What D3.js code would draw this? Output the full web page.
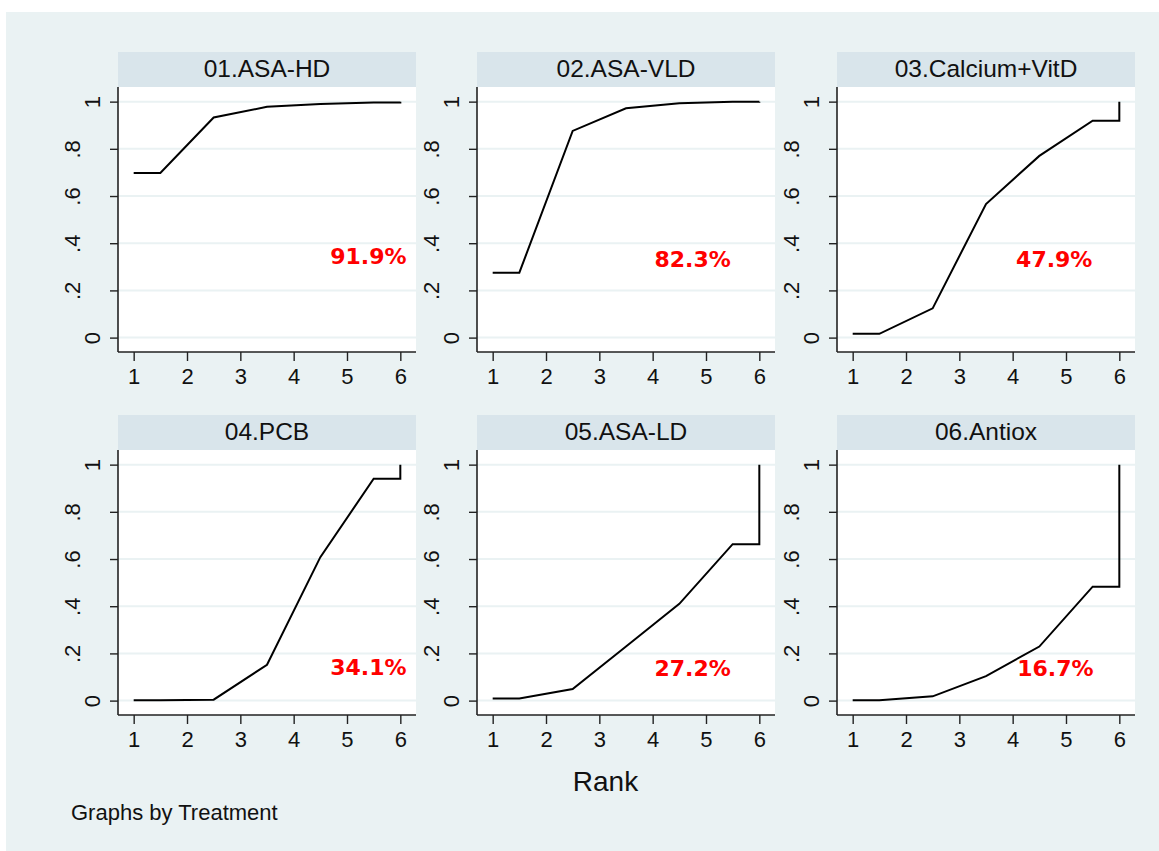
<!DOCTYPE html>
<html>
<head>
<meta charset="utf-8">
<script src="https://cdn.jsdelivr.net/npm/d3@7"></script>
<style>
  body { margin: 0; background: #ffffff; }
</style>
</head>
<body>
<svg id="chart" width="1159" height="851" font-family='"Liberation Sans", Arial, sans-serif'></svg>
<script>
// treatments, one panel each
var treatments = ['01.ASA-HD', '02.ASA-VLD', '03.Calcium+VitD', '04.PCB', '05.ASA-LD', '06.Antiox'];

// cumulative rank probabilities for ranks 1..5 (rank 6 is always 1)
var cumProb = [
  [0.698, 0.933, 0.978, 0.990, 0.996],
  [0.275, 0.876, 0.972, 0.993, 0.999],
  [0.016, 0.124, 0.566, 0.770, 0.919],
  [0.001, 0.004, 0.152, 0.608, 0.940],
  [0.009, 0.049, 0.229, 0.410, 0.663],
  [0.001, 0.018, 0.104, 0.229, 0.483]
];

// SUCRA values (%)
var sucra = [91.9, 82.3, 47.9, 34.1, 27.2, 16.7];

// where the SUCRA label sits, in data units (rank, probability)
var sucraLabelAt = [[5.4, 0.31], [4.75, 0.30], [4.78, 0.30], [5.4, 0.11], [4.75, 0.105], [4.8, 0.105]];

var rankTicks = [1, 2, 3, 4, 5, 6];
var probTicks = [0, 0.2, 0.4, 0.6, 0.8, 1];
var probTickLabels = ['0', '.2', '.4', '.6', '.8', '1'];

var W = 1159, H = 851;
var FONT = '"Liberation Sans", Arial, sans-serif';
var svg = d3.select('#chart');

// graph region background
svg.append('rect')
  .attr('x', 6).attr('y', 12)
  .attr('width', W - 6).attr('height', H - 12)
  .attr('fill', '#eaf2f3');

var panelW = 298, stripH = 35, plotH = 265;
var colLeft = [118, 477, 837];
var rowTop = [52, 415];

var x = d3.scaleLinear().domain([0.706, 6.294]).range([0, panelW]);
var y = d3.scaleLinear().domain([-0.061, 1.062]).range([plotH, 0]);

var line = d3.line()
  .x(function (d) { return x(d[0]); })
  .y(function (d) { return y(d[1]); });

/**
 * Builds the step-like cumulative ranking curve used by Stata's sucra plot.
 */
function curvePoints(c) {
  return [[1, c[0]], [1.5, c[0]], [2.5, c[1]], [3.5, c[2]], [4.5, c[3]],
    [5.5, c[4]], [6, c[4]], [6, 1]];
}

treatments.forEach(function (name, i) {
  var left = colLeft[i % 3];
  var top = rowTop[Math.floor(i / 3)];

  var g = svg.append('g')
    .attr('transform', 'translate(' + left + ',' + top + ')');

  // strip with the treatment name
  g.append('rect')
    .attr('width', panelW).attr('height', stripH)
    .attr('fill', '#d9e5eb');
  g.append('text')
    .attr('x', panelW / 2).attr('y', 25)
    .attr('text-anchor', 'middle')
    .attr('font-size', 24.5)
    .attr('fill', '#111')
    .text(name);

  var plot = g.append('g').attr('transform', 'translate(0,' + stripH + ')');

  plot.append('rect')
    .attr('width', panelW).attr('height', plotH)
    .attr('fill', '#ffffff');

  // horizontal grid
  plot.selectAll('line.grid')
    .data(probTicks)
    .enter().append('line')
    .attr('class', 'grid')
    .attr('x1', 0).attr('x2', panelW)
    .attr('y1', function (d) { return y(d); })
    .attr('y2', function (d) { return y(d); })
    .attr('stroke', '#eaf2f3')
    .attr('stroke-width', 2);

  // axes
  var xAxis = d3.axisBottom(x).tickValues(rankTicks).tickSize(9).tickPadding(7)
    .tickFormat(d3.format('d'));
  var xg = plot.append('g')
    .attr('transform', 'translate(0,' + plotH + ')')
    .call(xAxis)
    .attr('font-size', 22)
    .attr('font-family', FONT);
  xg.select('.domain').attr('stroke', '#222').attr('stroke-width', 1.6)
    .attr('d', 'M0,0H' + panelW);
  xg.selectAll('.tick line').attr('stroke', '#222').attr('stroke-width', 1.4);
  xg.selectAll('.tick text').attr('fill', '#111');

  var yAxis = d3.axisLeft(y).tickValues(probTicks).tickSize(8)
    .tickFormat(function (d, k) { return probTickLabels[k]; });
  var yg = plot.append('g').call(yAxis)
    .attr('font-size', 22)
    .attr('font-family', FONT);
  yg.select('.domain').attr('stroke', '#222').attr('stroke-width', 1.6)
    .attr('d', 'M0,0V' + plotH);
  yg.selectAll('.tick line').attr('stroke', '#222').attr('stroke-width', 1.4);
  yg.selectAll('.tick text')
    .attr('fill', '#111')
    .attr('text-anchor', 'middle')
    .attr('dy', 0)
    .attr('x', null)
    .attr('transform', function (d, k) {
      // single character labels sit closer to the axis
      var off = probTickLabels[k].length > 1 ? -38 : -18;
      return 'translate(' + off + ',0) rotate(-90)';
    });

  // cumulative ranking curve
  plot.append('path')
    .datum(curvePoints(cumProb[i]))
    .attr('d', line)
    .attr('fill', 'none')
    .attr('stroke', '#000')
    .attr('stroke-width', 2)
    .attr('stroke-linejoin', 'miter');

  // SUCRA label
  plot.append('text')
    .attr('x', x(sucraLabelAt[i][0]))
    .attr('y', y(sucraLabelAt[i][1]))
    .attr('text-anchor', 'middle')
    .attr('font-family', '"DejaVu Sans", Verdana, sans-serif')
    .attr('font-weight', 'bold')
    .attr('font-size', 22)
    .attr('fill', '#ff0000')
    .text(sucra[i].toFixed(1) + '%');
});

svg.append('text')
  .attr('x', 605.5).attr('y', 791)
  .attr('text-anchor', 'middle')
  .attr('font-size', 28)
  .attr('fill', '#111')
  .text('Rank');

svg.append('text')
  .attr('x', 71).attr('y', 820)
  .attr('font-size', 22)
  .attr('fill', '#111')
  .text('Graphs by Treatment');
</script>
</body>
</html>
